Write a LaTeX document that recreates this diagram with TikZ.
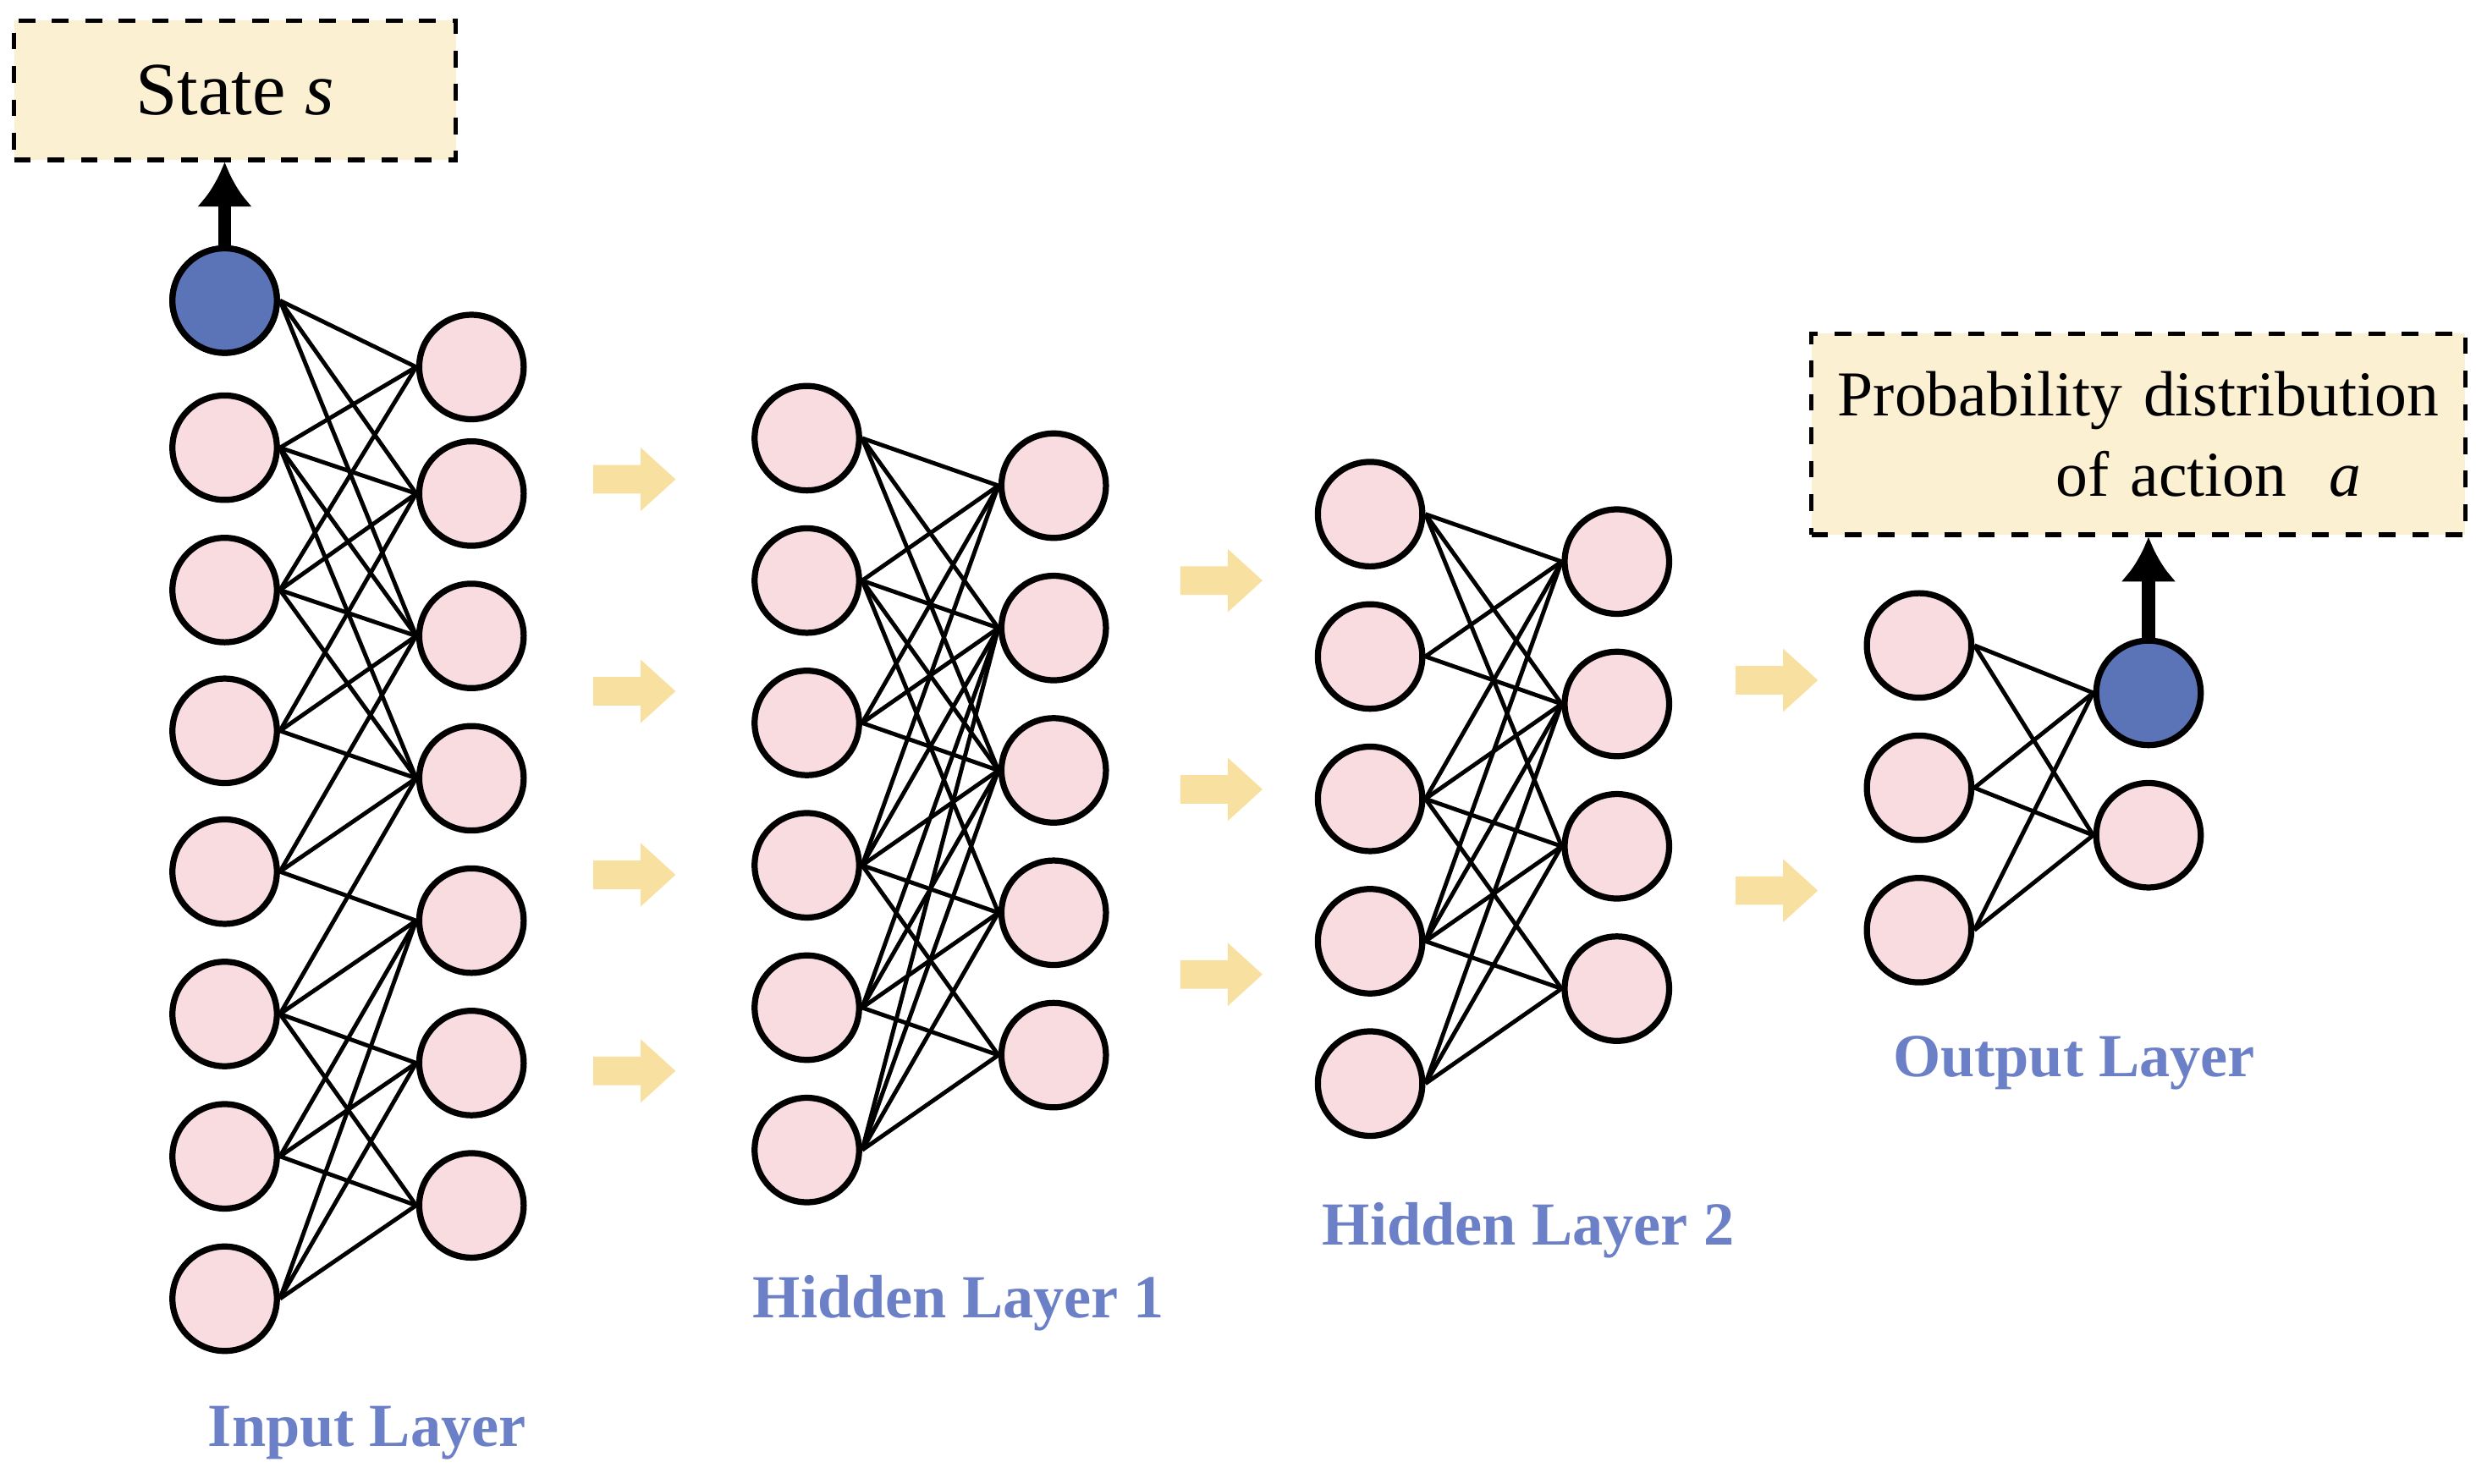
\documentclass[tikz,border=0pt]{standalone}
\usepackage{fontspec}
\setmainfont{Liberation Serif}
\usetikzlibrary{arrows.meta}
\begin{document}
\begin{tikzpicture}[x=0.01cm,y=-0.01cm,
 neu/.style={circle,draw=black,line width=1.1pt,fill=pinkf,minimum size=0.66cm,inner sep=0pt},
 blu/.style={neu,fill=bluef},
 lab/.style={text=labc,font=\bfseries\fontsize{11}{13}\selectfont},
 box/.style={draw=black,dashed,line width=0.8pt,fill=boxf,inner sep=0pt},
 yar/.style={fill=yell},
 con/.style={line width=0.75pt}]
\definecolor{pinkf}{HTML}{F8DCE0}
\definecolor{bluef}{HTML}{5B73B7}
\definecolor{labc}{HTML}{6B80C6}
\definecolor{boxf}{HTML}{FCF0D2}
\definecolor{yell}{HTML}{F8E0A0}
\useasboundingbox (0,0) rectangle (1565,938);
% input layer
\foreach \y [count=\i] in {190,283,373,462,551,641,731,821} {\node[neu] (a\i) at (142,\y) {};}
\node[blu] at (a1) {};
\foreach \y [count=\i] in {232,312,402,492,582,672,762} {\node[neu] (b\i) at (298,\y) {};}
\foreach \s/\t in {1/1,1/2,1/3,2/1,2/2,2/3,2/4,3/1,3/2,3/3,3/4,4/2,4/3,4/4,5/3,5/4,5/5,6/4,6/5,6/6,6/7,7/5,7/6,7/7,8/5,8/6,8/7}
 {\draw[con] (a\s.east) -- (b\t.west);}
% hidden 1
\foreach \y [count=\i] in {277,367,457,547,637,727} {\node[neu] (c\i) at (510,\y) {};}
\foreach \y [count=\i] in {307,397,487,577,667} {\node[neu] (d\i) at (666,\y) {};}
\foreach \s/\t in {1/1,1/2,1/3,2/1,2/2,2/3,2/4,3/1,3/2,3/3,4/1,4/2,4/3,4/4,4/5,5/2,5/3,5/4,5/5,6/2,6/3,6/4,6/5}
 {\draw[con] (c\s.east) -- (d\t.west);}
% hidden 2
\foreach \y [count=\i] in {325,415,505,595,685} {\node[neu] (e\i) at (866,\y) {};}
\foreach \y [count=\i] in {355,445,535,625} {\node[neu] (f\i) at (1022,\y) {};}
\foreach \s/\t in {1/1,1/2,1/3,2/1,2/2,3/1,3/2,3/3,3/4,4/1,4/2,4/3,4/4,5/2,5/3,5/4}
 {\draw[con] (e\s.east) -- (f\t.west);}
% output
\foreach \y [count=\i] in {408,498,588} {\node[neu] (g\i) at (1213,\y) {};}
\node[blu] (h1) at (1358,438) {};
\node[neu] (h2) at (1358,528) {};
\foreach \s/\t in {1/1,1/2,2/1,2/2,3/1,3/2}
 {\draw[con] (g\s.east) -- (h\t.west);}
% yellow arrows
\foreach \x/\y in {375/303,375/437,375/553,375/677,746/367,746/499,746/616,1097/430,1097/563}
 {\fill[yar] (\x,\y) ++(0,-9) -- ++(30,0) -- ++(0,-11) -- ++(22,20) -- ++(-22,20) -- ++(0,-11) -- ++(-30,0) -- cycle;}
% boxes
\node[box,minimum width=2.79cm,minimum height=0.88cm,font=\fontsize{13.5}{16}\selectfont] (st) at (148.5,57) {State \textit{s}};
\node[box,text width=4.13cm,minimum height=1.27cm,align=center,font=\fontsize{11.5}{14.5}\selectfont] (pd) at (1351.5,274.5) {Probability distribution\\\hspace*{2.2em}of action \ \textit{a}};
\draw[line width=2.4pt,-{Latex[length=8pt,width=10pt]}] (a1.north) -- (a1.north |- st.south);
\draw[line width=2.4pt,-{Latex[length=8pt,width=10pt]}] (h1.north) -- (h1.north |- pd.south);
% labels
\node[lab] (l1) at (232,906) {Input Layer};
\node[lab] (l2) at (606,824) {Hidden Layer 1};
\node[lab] (l3) at (966,778) {Hidden Layer 2};
\node[lab] (l4) at (1311,672) {Output Layer};
\end{tikzpicture}
\end{document}
